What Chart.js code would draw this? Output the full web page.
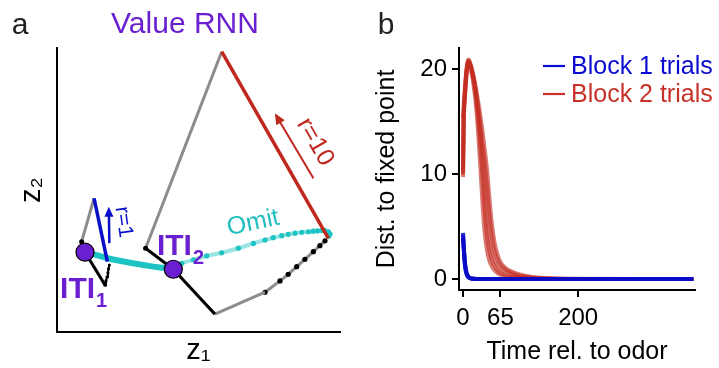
<!DOCTYPE html>
<html>
<head>
<meta charset="utf-8">
<script src="https://cdn.jsdelivr.net/npm/chart.js@4.4.1/dist/chart.umd.min.js"></script>
<style>
  html, body { margin: 0; padding: 0; background: #fff; }
  .panel { position: absolute; top: 0; height: 368px; }
  #panelA { left: 0; width: 360px; }
  #panelB { left: 360px; width: 359px; }
</style>
</head>
<body>
<div class="panel" id="panelA"><canvas id="chartA"></canvas></div>
<div class="panel" id="panelB"><canvas id="chartB"></canvas></div>
<script>
// ---- panel a : latent trajectories (z1, z2 in arbitrary units) ----
const itiPoints = [{x: 0.99, y: 2.81}, {x: 4.11, y: 2.21}];
const omitSolid = [
  {x: 0.99, y: 2.82}, {x: 1.87, y: 2.58}, {x: 2.58, y: 2.44},
  {x: 3.29, y: 2.32}, {x: 3.76, y: 2.26}, {x: 4.11, y: 2.21}
];
const omitFaded = [
  {x: 4.11, y: 2.21}, {x: 4.41, y: 2.42}, {x: 4.82, y: 2.54}, {x: 5.29, y: 2.68},
  {x: 5.82, y: 2.79}, {x: 6.41, y: 2.95}, {x: 6.94, y: 3.12}, {x: 7.35, y: 3.24},
  {x: 7.64, y: 3.32}, {x: 7.94, y: 3.39}, {x: 8.17, y: 3.44}, {x: 8.41, y: 3.48},
  {x: 8.65, y: 3.51}, {x: 8.88, y: 3.53}, {x: 9.05, y: 3.55}, {x: 9.2, y: 3.56},
  {x: 9.35, y: 3.57}, {x: 9.47, y: 3.57}, {x: 9.59, y: 3.53}, {x: 9.65, y: 3.45},
  {x: 9.6, y: 3.37}
];
// block 1 trial (r = 1)
const b1Odor = [{x: 0.99, y: 2.81}, {x: 1.70, y: 1.65}];
const b1Delay = [
  {x: 1.70, y: 1.65}, {x: 1.73, y: 1.80}, {x: 1.77, y: 1.94},
  {x: 1.80, y: 2.08}, {x: 1.82, y: 2.22}, {x: 1.85, y: 2.36}
];
const b1Reward = [{x: 1.78, y: 2.48}, {x: 1.31, y: 4.71}];
const b1Return = [{x: 1.31, y: 4.71}, {x: 0.87, y: 3.18}];
const b1Settle = [{x: 0.87, y: 3.18}, {x: 0.99, y: 2.81}];
// block 2 trial (r = 10)
const b2Odor = [{x: 4.11, y: 2.21}, {x: 5.58, y: 0.63}];
const b2Drift = [{x: 5.58, y: 0.63}, {x: 7.35, y: 1.40}];
const b2Delay = [
  {x: 7.35, y: 1.40}, {x: 7.88, y: 1.80}, {x: 8.17, y: 2.03}, {x: 8.47, y: 2.30},
  {x: 8.76, y: 2.56}, {x: 9.06, y: 2.83}, {x: 9.29, y: 3.04}, {x: 9.47, y: 3.21}
];
const b2Reward = [{x: 9.59, y: 3.30}, {x: 5.82, y: 9.87}];
const b2Return = [{x: 5.82, y: 9.87}, {x: 3.13, y: 2.95}];
const b2Settle = [{x: 3.13, y: 2.95}, {x: 4.11, y: 2.21}];

// annotation anchors (data units)
const arrowR1 = [{x: 1.85, y: 3.13}, {x: 1.83, y: 4.41}];
const arrowR10 = [{x: 9.06, y: 5.41}, {x: 7.70, y: 7.70}];
const textNotes = [
  {text: 'Omit', x: 6.93, y: 3.84, rot: -12, size: 25, color: '#1fbfbf'},
  {text: 'r=10', x: 9.12, y: 6.69, rot: 60, size: 25, color: '#c0281e'},
  {text: 'r=1', x: 2.35, y: 3.87, rot: 82, size: 21, color: '#0a10c8'}
];
const itiLabels = [
  {sub: '1', x: 0.11, y: 1.20},
  {sub: '2', x: 3.53, y: 2.71}
];

// ---- panel b : distance to fixed point ----
const timeSteps = [0, 1, 3, 5, 7, 9, 11, 14, 18, 22, 26, 30, 34, 38, 42, 46, 50, 55, 60, 65, 75, 85, 100, 120, 150, 200, 300, 400];
const block1Trials = [
  [4.4, 3.4, 1.8, 0.9, 0.45, 0.25, 0.12, 0.06, 0.03, 0.01, 0, 0, 0, 0, 0, 0, 0, 0, 0, 0, 0, 0, 0, 0, 0, 0, 0, 0],
  [3.9, 3.0, 1.5, 0.7, 0.35, 0.18, 0.1, 0.05, 0.02, 0.01, 0, 0, 0, 0, 0, 0, 0, 0, 0, 0, 0, 0, 0, 0, 0, 0, 0, 0],
  [4.2, 3.2, 1.6, 0.8, 0.4, 0.2, 0.1, 0.04, 0.02, 0, 0, 0, 0, 0, 0, 0, 0, 0, 0, 0, 0, 0, 0, 0, 0, 0, 0, 0]
];
const block2Trials = [
  [9.7, 14.8, 17.2, 18.9, 20.1, 20.7, 20.6, 19.9, 18.6, 16.8, 14.2, 10.8, 7.0, 4.2, 2.6, 1.7, 1.2, 0.8, 0.55, 0.4, 0.22, 0.12, 0.05, 0.02, 0, 0, 0, 0],
  [10.1, 15.0, 17.5, 19.1, 20.2, 20.8, 20.7, 20.1, 19.0, 17.4, 15.3, 12.6, 9.6, 6.4, 4.0, 2.6, 1.8, 1.2, 0.8, 0.6, 0.32, 0.18, 0.08, 0.03, 0.01, 0, 0, 0],
  [15.3, 16.4, 18.0, 19.4, 20.4, 20.9, 20.8, 20.3, 19.3, 17.9, 16.1, 14.0, 11.6, 8.7, 5.8, 3.8, 2.6, 1.7, 1.2, 0.9, 0.6, 0.4, 0.22, 0.1, 0.03, 0, 0, 0],
  [9.9, 14.6, 17.0, 18.7, 19.9, 20.5, 20.5, 20.1, 19.2, 18.0, 16.5, 14.7, 12.7, 10.9, 8.5, 6.0, 4.1, 2.6, 1.8, 1.3, 0.85, 0.55, 0.3, 0.14, 0.04, 0, 0, 0],
  [10.4, 15.2, 17.6, 19.2, 20.3, 20.7, 20.6, 20.2, 19.4, 18.3, 17.0, 15.6, 14.0, 12.2, 10.3, 7.6, 5.3, 3.4, 2.3, 1.6, 1.0, 0.7, 0.4, 0.2, 0.06, 0.01, 0, 0]
];
const xTicksB = [0, 65, 200];
const yTicksB = [0, 10, 20];
const legendLabels = ['Block 1 trials', 'Block 2 trials'];

const FONT = '"Liberation Sans", Arial, Helvetica, sans-serif';
Chart.defaults.font.family = FONT;
Chart.defaults.color = '#000';

const PURPLE = '#6a1fd0';
const CYAN = '#1ec4c4';
const GRAY = '#8c8c8c';
const RED = '#c0281e';
const BLUE = '#0a10c8';

function seg(data, color, width, extra) {
  return Object.assign({
    data: data, borderColor: color, borderWidth: width, showLine: true,
    pointRadius: 0, tension: 0, fill: false
  }, extra || {});
}

// panel letter (and optional heading) drawn in canvas pixels
function panelLabel(txt, heading) {
  return {
    id: 'panelLabel' + txt,
    afterDraw(chart) {
      const ctx = chart.ctx;
      ctx.save();
      ctx.font = '30px ' + FONT;
      ctx.fillStyle = '#222';
      ctx.textAlign = 'center';
      ctx.textBaseline = 'middle';
      ctx.fillText(txt, txt === 'a' ? 20 : 26, 26);
      if (heading) {
        ctx.fillStyle = PURPLE;
        ctx.fillText(heading, 185, 25);
      }
      ctx.restore();
    }
  };
}

function drawArrow(ctx, x1, y1, x2, y2, color, width, head) {
  const ang = Math.atan2(y2 - y1, x2 - x1);
  ctx.strokeStyle = color;
  ctx.fillStyle = color;
  ctx.lineWidth = width;
  ctx.beginPath();
  ctx.moveTo(x1, y1);
  ctx.lineTo(x2 - Math.cos(ang) * head * 0.8, y2 - Math.sin(ang) * head * 0.8);
  ctx.stroke();
  ctx.beginPath();
  ctx.moveTo(x2, y2);
  ctx.lineTo(x2 - head * Math.cos(ang) + head * 0.45 * Math.sin(ang), y2 - head * Math.sin(ang) - head * 0.45 * Math.cos(ang));
  ctx.lineTo(x2 - head * Math.cos(ang) - head * 0.45 * Math.sin(ang), y2 - head * Math.sin(ang) + head * 0.45 * Math.cos(ang));
  ctx.closePath();
  ctx.fill();
}

const notesA = {
  id: 'notesA',
  afterDatasetsDraw(chart) {
    const {ctx, scales: {x, y}} = chart;
    ctx.save();
    const a1 = arrowR1.map(p => [x.getPixelForValue(p.x), y.getPixelForValue(p.y)]);
    drawArrow(ctx, a1[0][0], a1[0][1], a1[1][0], a1[1][1], BLUE, 2.5, 10);
    const a2 = arrowR10.map(p => [x.getPixelForValue(p.x), y.getPixelForValue(p.y)]);
    drawArrow(ctx, a2[0][0], a2[0][1], a2[1][0], a2[1][1], RED, 2, 11);

    textNotes.forEach(n => {
      ctx.save();
      ctx.translate(x.getPixelForValue(n.x), y.getPixelForValue(n.y));
      ctx.rotate(n.rot * Math.PI / 180);
      ctx.font = n.size + 'px ' + FONT;
      ctx.fillStyle = n.color;
      ctx.textAlign = 'center';
      ctx.textBaseline = 'middle';
      ctx.fillText(n.text, 0, 0);
      ctx.restore();
    });

    itiLabels.forEach(l => {
      const px = x.getPixelForValue(l.x), py = y.getPixelForValue(l.y);
      ctx.fillStyle = PURPLE;
      ctx.textAlign = 'left';
      ctx.textBaseline = 'alphabetic';
      ctx.font = 'bold 30px ' + FONT;
      ctx.fillText('ITI', px, py);
      const w = ctx.measureText('ITI').width;
      ctx.font = 'bold 20px ' + FONT;
      ctx.fillText(l.sub, px + w + 1, py + 9);
    });
    ctx.restore();
  }
};

new Chart(document.getElementById('chartA'), {
  type: 'scatter',
  data: {
    datasets: [
      seg(itiPoints, '#000', 1.2, {showLine: false, pointRadius: 9, pointBackgroundColor: PURPLE, pointBorderColor: '#000', pointBorderWidth: 1.2}),
      seg(b2Reward, RED, 3.5),
      seg(b1Reward, BLUE, 3.5),
      seg(b1Odor, '#000', 3),
      seg(b1Delay, '#000', 2, {pointRadius: 1.6, pointBackgroundColor: '#000', pointBorderWidth: 0}),
      seg(b1Return, GRAY, 3, {pointRadius: [0, 2.5], pointBackgroundColor: '#000', pointBorderWidth: 0}),
      seg(b1Settle, '#000', 3),
      seg(b2Odor, '#000', 3),
      seg(b2Drift, GRAY, 3),
      seg(b2Delay, GRAY, 3, {pointRadius: 2.6, pointBackgroundColor: '#000', pointBorderWidth: 0}),
      seg(b2Return, GRAY, 3, {pointRadius: [0, 2.5], pointBackgroundColor: '#000', pointBorderWidth: 0}),
      seg(b2Settle, '#000', 3),
      seg(omitFaded, 'rgba(30,196,196,0.45)', 4, {tension: 0.3, pointRadius: 2.6, pointBackgroundColor: CYAN, pointBorderWidth: 0}),
      seg(omitSolid, CYAN, 6, {tension: 0.3})
    ]
  },
  options: {
    responsive: true,
    maintainAspectRatio: false,
    animation: false,
    layout: {padding: {left: 0, right: 20, top: 48, bottom: 0}},
    plugins: {
      legend: {display: false},
      tooltip: {enabled: false}
    },
    scales: {
      x: {
        type: 'linear', min: 0, max: 10,
        grid: {display: false},
        border: {display: true, color: '#000', width: 2},
        ticks: {display: false},
        title: {display: true, text: 'z₁', font: {size: 29}, padding: {top: 0, bottom: 0}},
        afterFit(scale) { scale.height = 36; }
      },
      y: {
        type: 'linear', min: 0, max: 10,
        grid: {display: false},
        border: {display: true, color: '#000', width: 2},
        ticks: {display: false},
        title: {display: true, text: 'z₂', font: {size: 29}, padding: {top: 15, bottom: 0}},
        afterFit(scale) { scale.width = 57; }
      }
    }
  },
  plugins: [notesA, panelLabel('a', 'Value RNN')]
});

// ---- panel b ----
function toPoints(vals) {
  return vals.map((v, i) => ({x: timeSteps[i], y: v}));
}

const datasetsB = [];
block1Trials.forEach(tr => datasetsB.push({
  data: toPoints(tr), borderColor: 'rgba(10,12,200,0.85)', borderWidth: 4,
  pointRadius: 0, cubicInterpolationMode: 'monotone', fill: false
}));
block2Trials.forEach(tr => datasetsB.push({
  data: toPoints(tr), borderColor: 'rgba(196,44,32,0.62)', borderWidth: 4,
  pointRadius: 0, cubicInterpolationMode: 'monotone', fill: false
}));

const legendB = {
  id: 'legendB',
  afterDraw(chart) {
    const {ctx, chartArea} = chart;
    const colors = ['#0a0ad0', '#c83228'];
    ctx.save();
    legendLabels.forEach((lab, i) => {
      const yy = chartArea.top + 18 + i * 28;
      ctx.strokeStyle = colors[i];
      ctx.lineWidth = 2.2;
      ctx.beginPath();
      ctx.moveTo(chartArea.right - 152, yy);
      ctx.lineTo(chartArea.right - 130, yy);
      ctx.stroke();
      ctx.fillStyle = colors[i];
      ctx.font = '25px ' + FONT;
      ctx.textAlign = 'left';
      ctx.textBaseline = 'middle';
      ctx.fillText(lab, chartArea.right - 124, yy + 1);
    });
    ctx.restore();
  }
};

new Chart(document.getElementById('chartB'), {
  type: 'line',
  data: {datasets: datasetsB},
  options: {
    responsive: true,
    maintainAspectRatio: false,
    animation: false,
    layout: {padding: {left: 0, right: 24, top: 48, bottom: 0}},
    plugins: {legend: {display: false}, tooltip: {enabled: false}},
    scales: {
      x: {
        type: 'linear', min: -7, max: 403,
        afterBuildTicks(scale) { scale.ticks = xTicksB.map(v => ({value: v})); },
        grid: {display: true, drawOnChartArea: false, drawTicks: true, tickLength: 7, color: '#000', lineWidth: 2},
        border: {display: true, color: '#000', width: 2},
        ticks: {font: {size: 24}, padding: 7, maxRotation: 0},
        title: {display: true, text: 'Time rel. to odor', font: {size: 25}, padding: {top: 0, bottom: 1}},
        afterFit(scale) { scale.height = 78; }
      },
      y: {
        type: 'linear', min: -1.05, max: 22,
        afterBuildTicks(scale) { scale.ticks = yTicksB.map(v => ({value: v})); },
        grid: {display: true, drawOnChartArea: false, drawTicks: true, tickLength: 7, color: '#000', lineWidth: 2},
        border: {display: true, color: '#000', width: 2},
        ticks: {font: {size: 24}, padding: 5},
        title: {display: true, text: 'Dist. to fixed point', font: {size: 25}, padding: {top: 12, bottom: 0}},
        afterFit(scale) { scale.width = 99; }
      }
    }
  },
  plugins: [legendB, panelLabel('b')]
});
</script>
</body>
</html>
